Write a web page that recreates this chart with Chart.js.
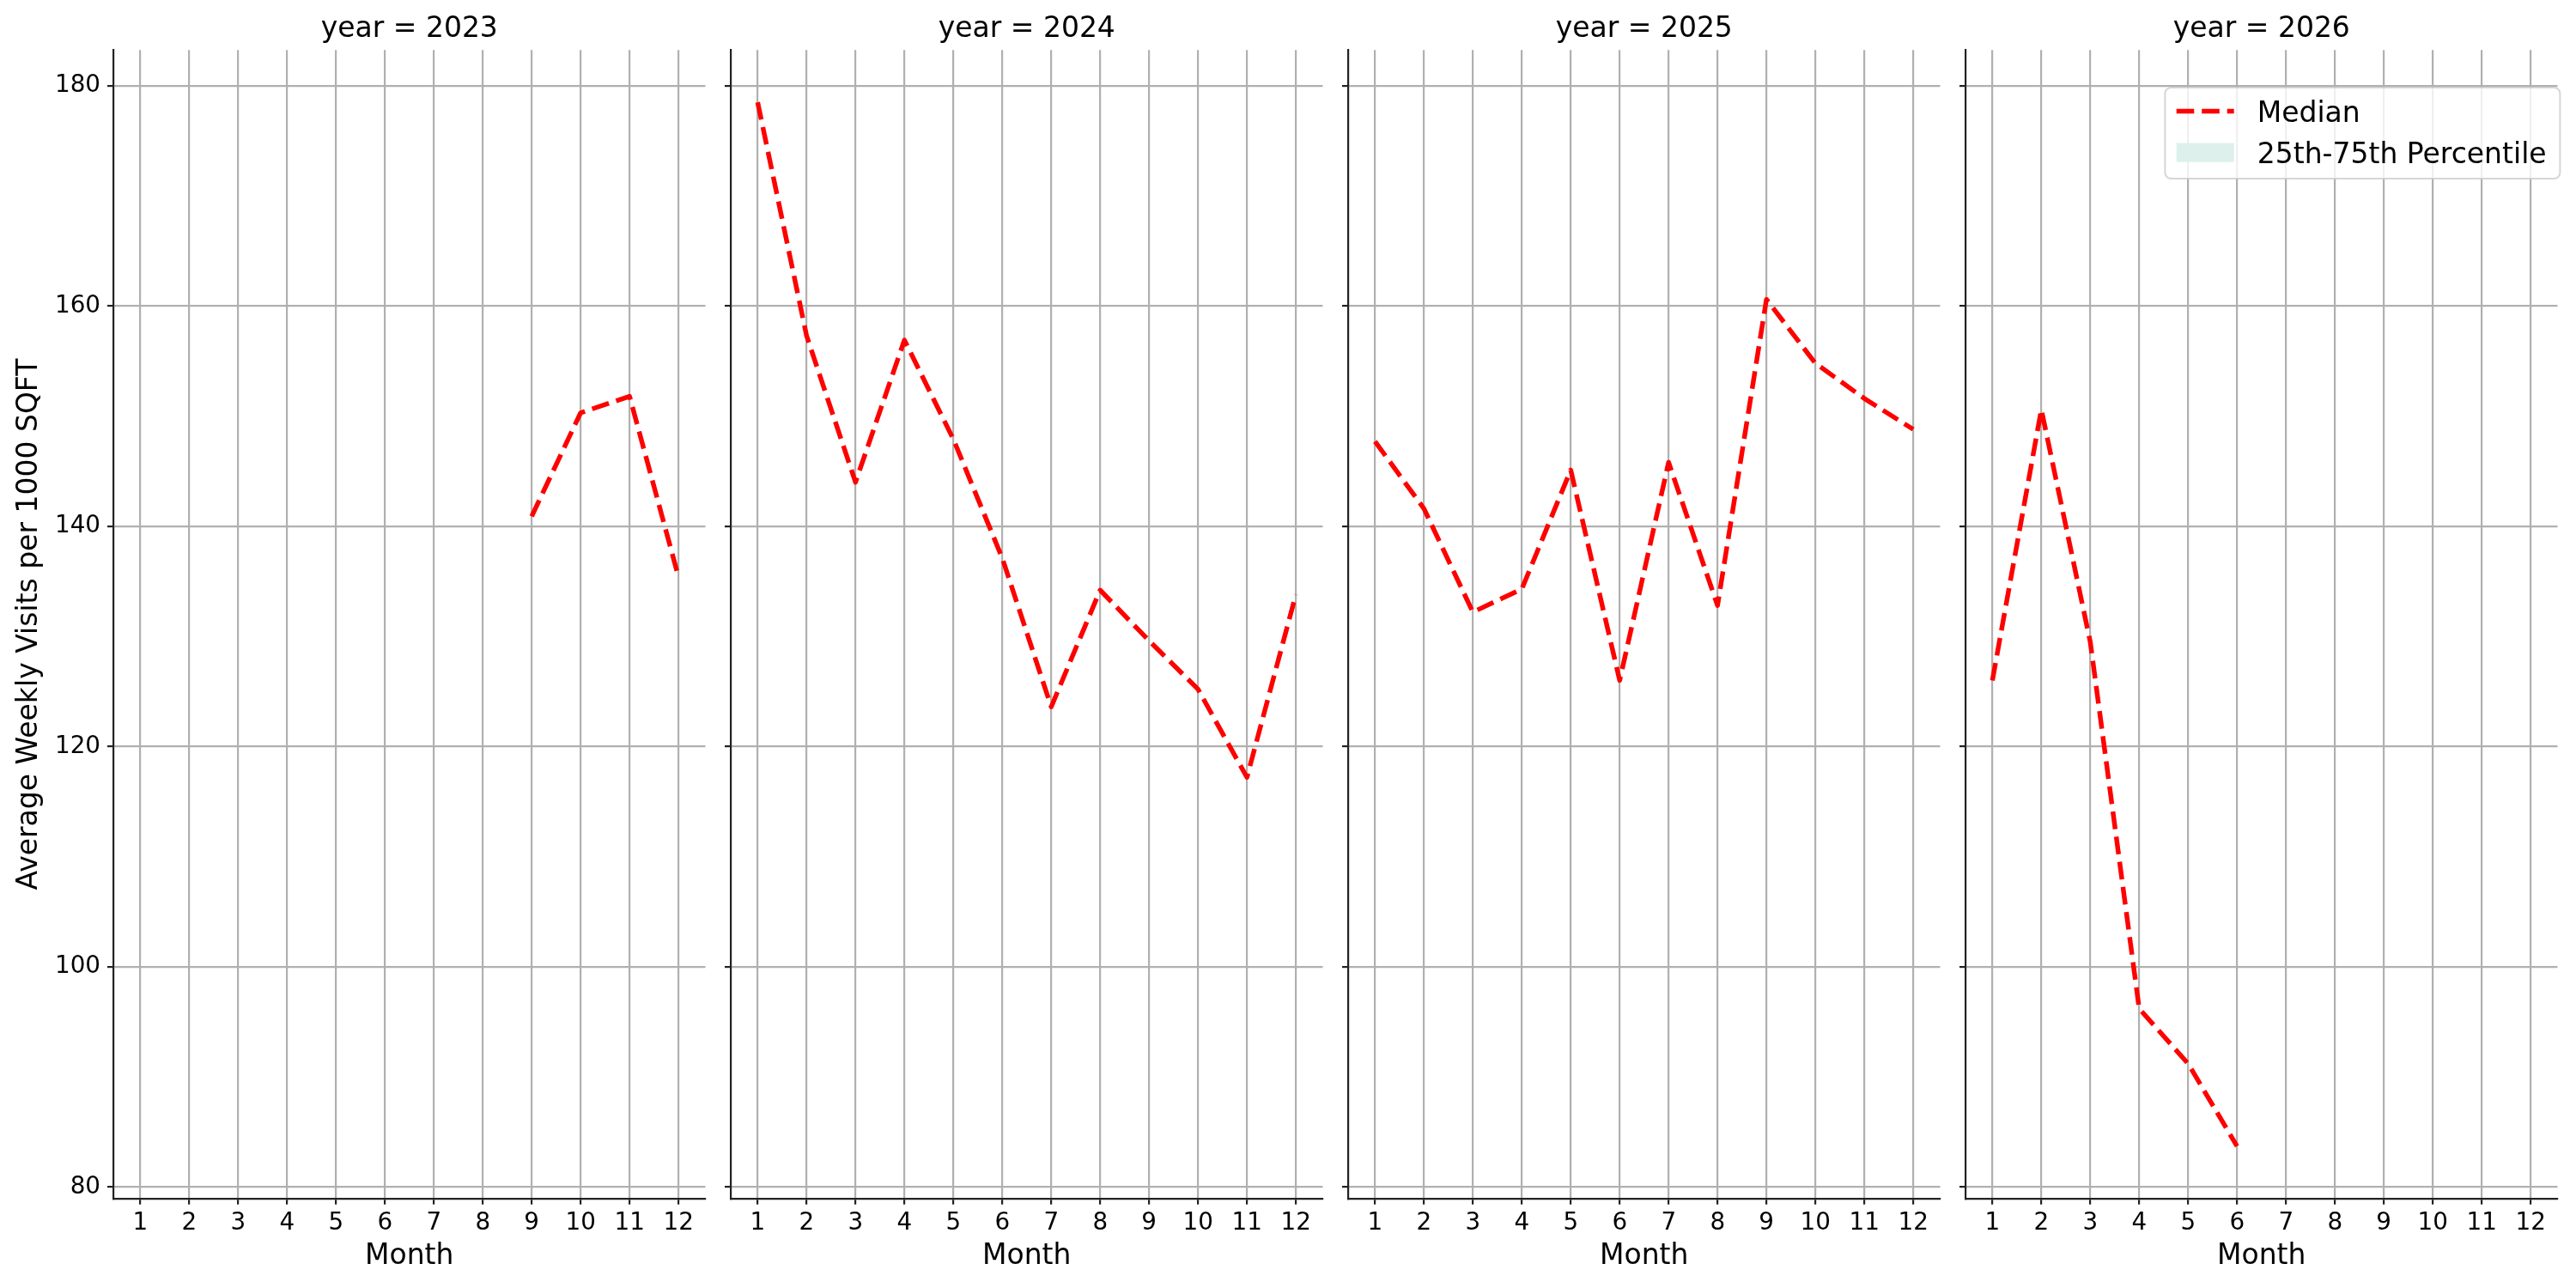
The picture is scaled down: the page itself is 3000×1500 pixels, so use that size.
<!DOCTYPE html>
<html>
<head>
<meta charset="utf-8">
<title>Average Weekly Visits per 1000 SQFT by Month</title>
<script src="https://cdn.jsdelivr.net/npm/chart.js@4.4.1/dist/chart.umd.min.js"></script>
<style>
  html, body { margin: 0; padding: 0; background: #fff; }
  #figure { position: relative; width: 3000px; height: 1500px; overflow: hidden; }
  .panel { position: absolute; top: 0; width: 843px; height: 1500px; }
</style>
</head>
<body>
<div id="figure">
  <div class="panel" style="left:0px"><canvas id="panel0"></canvas></div>
  <div class="panel" style="left:719px"><canvas id="panel1"></canvas></div>
  <div class="panel" style="left:1438px"><canvas id="panel2"></canvas></div>
  <div class="panel" style="left:2157px"><canvas id="panel3"></canvas></div>
</div>
<script>
const months = [1, 2, 3, 4, 5, 6, 7, 8, 9, 10, 11, 12];
const yearTitles = ['year = 2023', 'year = 2024', 'year = 2025', 'year = 2026'];
const median2023 = [null, null, null, null, null, null, null, null, 140.9, 150.3, 151.8, 135.4];
const median2024 = [178.5, 157.3, 144.0, 156.9, 147.9, 137.1, 123.6, 134.2, 129.6, 125.2, 117.2, 133.8];
const median2025 = [147.7, 141.6, 132.2, 134.3, 145.1, 126.0, 145.8, 132.8, 160.6, 154.8, 151.6, 148.8];
const median2026 = [126.0, 150.6, 129.5, 96.2, 91.2, 83.7, null, null, null, null, null, null];
const yTicks = [80, 100, 120, 140, 160, 180];
const seriesNames = ['Median', '25th-75th Percentile'];

const FONT = 'DejaVu Sans';
const DASH = [20.6, 8.9];

Chart.defaults.font.family = FONT;
Chart.defaults.color = '#000';

// legend drawn inside the last panel, with a translucent frame like matplotlib
const frameLegend = {
  id: 'frameLegend',
  afterDraw(chart, args, opts) {
    if (!opts.show) return;
    const ctx = chart.ctx;
    const sets = chart.data.datasets;
    ctx.save();
    ctx.beginPath();
    ctx.roundRect(opts.x, opts.y, opts.w, opts.h, 7);
    ctx.fillStyle = 'rgba(255,255,255,0.8)';
    ctx.fill();
    ctx.lineWidth = 2;
    ctx.strokeStyle = 'rgba(204,204,204,0.8)';
    ctx.stroke();

    const hx = opts.x + 13.3;
    const hw = 67;
    sets.forEach((ds, i) => {
      const cy = opts.y + 27.6 + i * 48;
      if (ds.type === 'line' && ds.borderWidth > 0) {
        ctx.beginPath();
        ctx.setLineDash(ds.borderDash || []);
        ctx.lineWidth = ds.borderWidth;
        ctx.strokeStyle = ds.borderColor;
        ctx.moveTo(hx, cy);
        ctx.lineTo(hx + hw, cy);
        ctx.stroke();
        ctx.setLineDash([]);
      } else {
        ctx.fillStyle = ds.backgroundColor;
        ctx.fillRect(hx, cy - 11, hw, 22);
      }
      ctx.fillStyle = '#000';
      ctx.font = '33px "' + FONT + '"';
      ctx.textBaseline = 'alphabetic';
      ctx.textAlign = 'left';
      ctx.fillText(ds.label, hx + hw + 27, cy + 12);
    });
    ctx.restore();
  }
};

function toPoints(values) {
  return months.map((m, i) => ({ x: m, y: values[i] }));
}

function makePanel(canvasId, title, values, first, last) {
  const datasets = [{
    type: 'line',
    label: seriesNames[0],
    data: toPoints(values),
    borderColor: '#ff0000',
    borderWidth: 5.5,
    borderDash: DASH,
    borderJoinStyle: 'round',
    pointRadius: 0,
    tension: 0,
    spanGaps: false,
    fill: false
  }];
  if (last) {
    datasets.push({
      type: 'line',
      label: seriesNames[1],
      data: [],
      borderWidth: 0,
      backgroundColor: 'rgb(221,240,235)',
      pointRadius: 0
    });
  }

  new Chart(document.getElementById(canvasId), {
    type: 'line',
    data: { datasets: datasets },
    plugins: [frameLegend],
    options: {
      responsive: true,
      maintainAspectRatio: false,
      animation: false,
      events: [],
      layout: { padding: { top: 0, right: 21.5, bottom: 0, left: 0 } },
      plugins: {
        legend: { display: false },
        tooltip: { enabled: false },
        title: {
          display: true,
          text: title,
          fullSize: false,
          color: '#000',
          font: { size: 33, weight: 'normal' },
          padding: { top: 14.4, bottom: 4.3 }
        },
        frameLegend: { show: last, x: 364.4, y: 102, w: 460, h: 106 }
      },
      scales: {
        x: {
          type: 'linear',
          min: 0.45,
          max: 12.55,
          afterBuildTicks: (scale) => { scale.ticks = months.map(v => ({ value: v })); },
          afterFit: (scale) => { scale.height = 104.3; },
          ticks: {
            autoSkip: false,
            maxRotation: 0,
            padding: 5,
            font: { size: 27.8 },
            color: '#000'
          },
          grid: {
            color: '#b0b0b0',
            lineWidth: 2.2,
            tickLength: 7,
            tickColor: '#222',
            tickWidth: 2.2
          },
          border: { display: true, color: '#222', width: 2.2 },
          title: {
            display: true,
            text: 'Month',
            color: '#000',
            font: { size: 33 },
            padding: { top: 0, bottom: 16.4 }
          }
        },
        y: {
          type: 'linear',
          min: 78.96,
          max: 183.24,
          afterBuildTicks: (scale) => { scale.ticks = yTicks.map(v => ({ value: v })); },
          afterFit: (scale) => { scale.width = 132; },
          ticks: {
            padding: 8,
            font: { size: 27.8 },
            color: first ? '#000' : 'rgba(0,0,0,0)'
          },
          grid: {
            color: '#b0b0b0',
            lineWidth: 2.2,
            tickLength: 7,
            tickColor: '#222',
            tickWidth: 2.2
          },
          border: { display: true, color: '#222', width: 2.2 },
          title: {
            display: first,
            text: 'Average Weekly Visits per 1000 SQFT',
            color: '#000',
            font: { size: 33 },
            padding: { top: 14.2, bottom: 0 }
          }
        }
      }
    }
  });
}

document.addEventListener('DOMContentLoaded', function() {
  const series = [median2023, median2024, median2025, median2026];
  series.forEach((values, i) => {
    makePanel('panel' + i, yearTitles[i], values, i === 0, i === series.length - 1);
  });
});
</script>
</body>
</html>
